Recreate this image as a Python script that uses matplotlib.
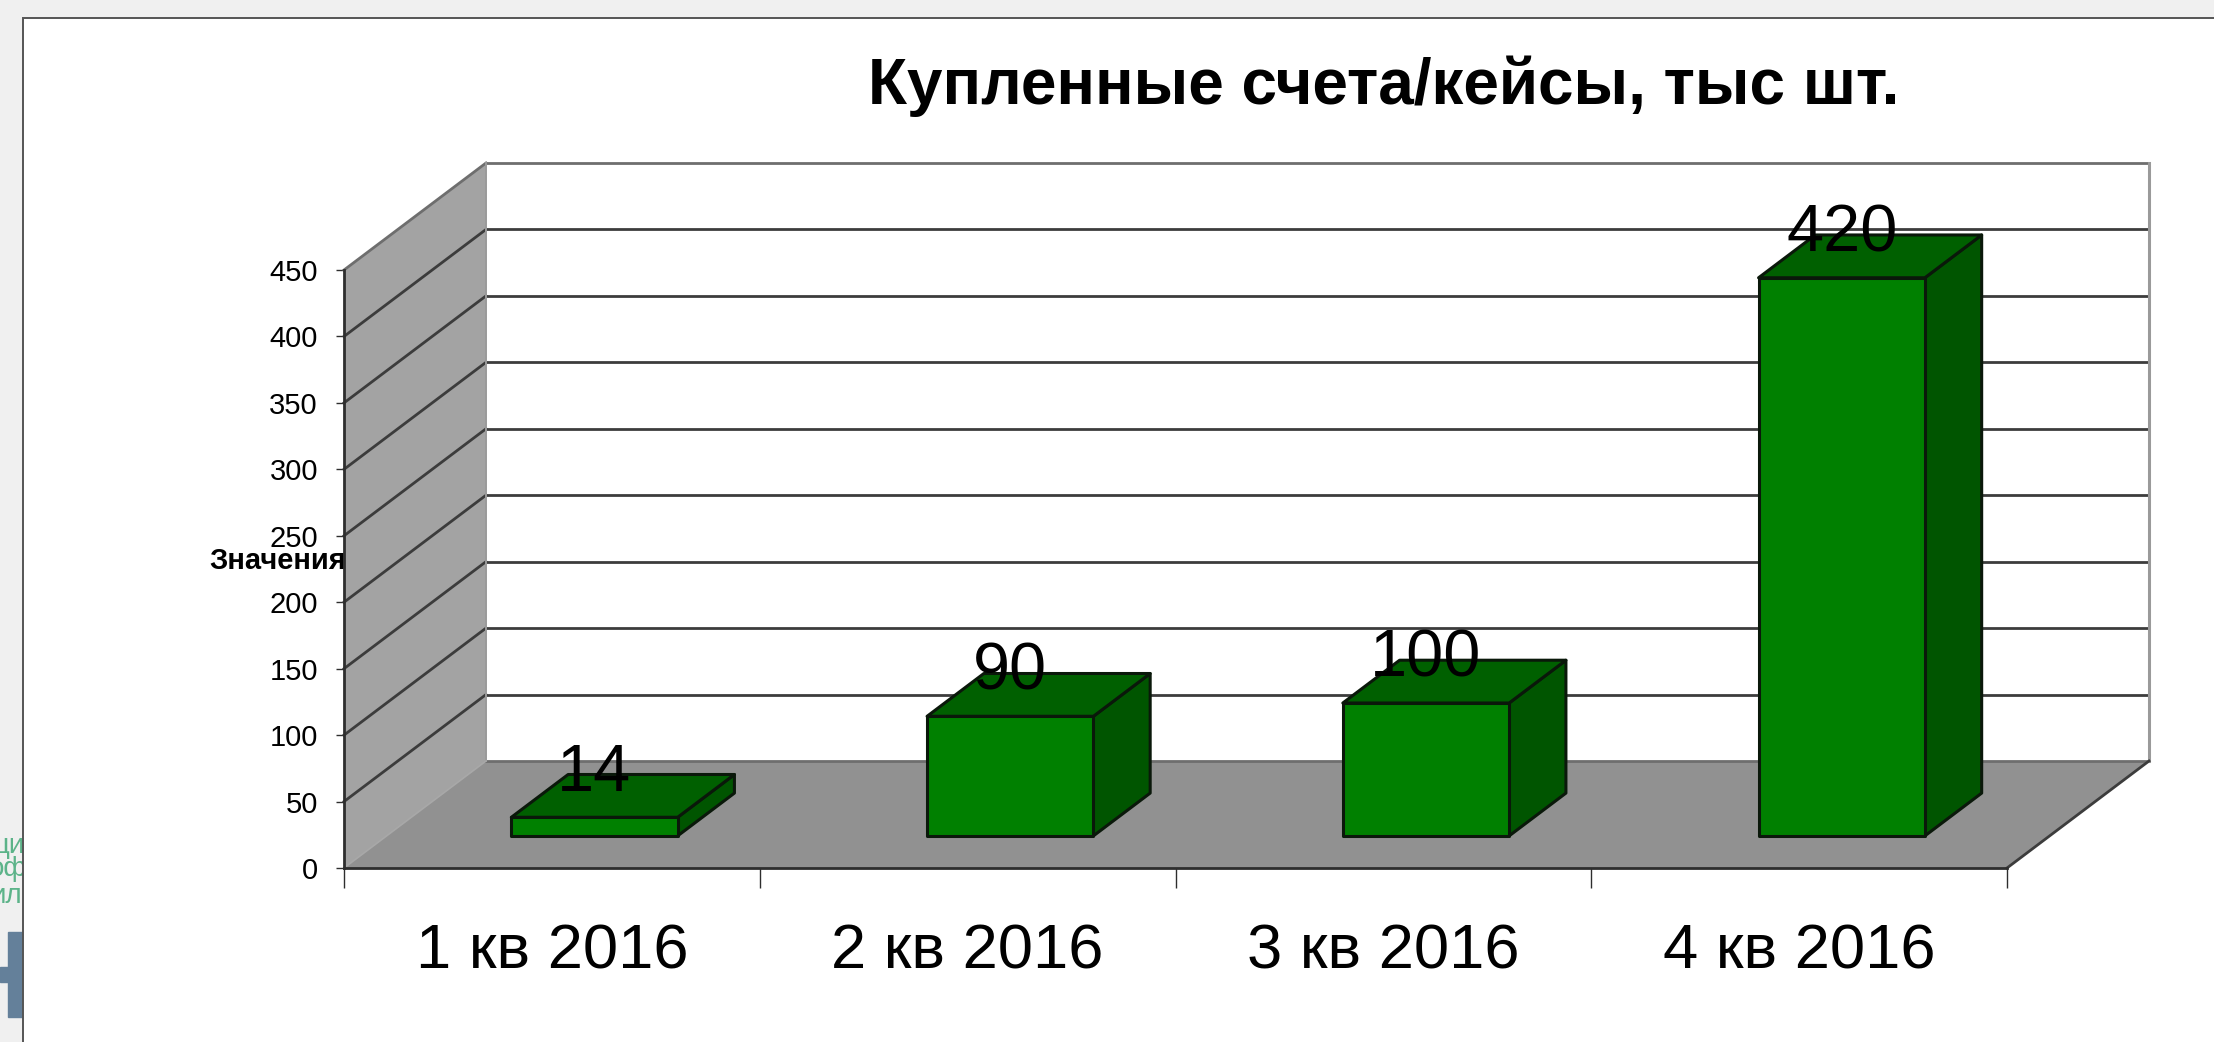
import matplotlib
matplotlib.use("Agg")
import matplotlib.pyplot as plt
from matplotlib.patches import Polygon, Rectangle

plt.rcParams['font.family'] = ['Liberation Sans', 'DejaVu Sans']

# Data
categories = ["1 кв 2016", "2 кв 2016", "3 кв 2016", "4 кв 2016"]
values = [14, 90, 100, 420]
y_ticks = [0, 50, 100, 150, 200, 250, 300, 350, 400, 450]
title = "Купленные счета/кейсы, тыс шт."
y_title = "Значения"
logo_lines = ["ци", "оф", "ил"]

W, H = 2214, 1042
DPI = 100

# front plane of the chart, in pixels
LEFT, RIGHT, BASE, TOP = 344, 2007, 868, 270
PX_X = (RIGHT - LEFT) / len(categories)
PX_Y = (BASE - TOP) / y_ticks[-1]
# oblique depth in data units
DX = 142 / PX_X
DY = 107 / PX_Y


def proj(x, v, d):
    """Oblique projection: depth d (0..1) shifts a point up and to the right"""
    return (x + d * DX, v + d * DY)


def fx(px):
    return px / W


def fy(py):
    return 1 - py / H


fig = plt.figure(figsize=(W / DPI, H / DPI), dpi=DPI, facecolor="#f0f0f0")

# Logo fragments behind the white slide panel
logo_green = "#5cb389"
for txt, px, py in zip(logo_lines, [24, 27, 22], [846, 869, 896]):
    fig.text(fx(px), fy(py), txt, color=logo_green, fontsize=20, ha="right", va="center", zorder=1)
logo_blue = "#64809a"
fig.add_artist(Rectangle((fx(8), fy(1017)), fx(30) - fx(8), fy(932) - fy(1017), color=logo_blue, zorder=1))
fig.add_artist(Rectangle((fx(0), fy(982)), fx(8), fy(967) - fy(982), color=logo_blue, zorder=1))

# White panel
fig.add_artist(Rectangle((fx(23), fy(H + 20)), fx(W + 20 - 23), fy(18) - fy(H + 20),
                         facecolor="white", edgecolor="#555555", linewidth=1.4, zorder=2))

ax = fig.add_axes([fx(LEFT), fy(BASE), fx(RIGHT - LEFT), fy(TOP) - fy(BASE)], zorder=3)
ax.patch.set_visible(False)
ax.set_xlim(0, len(categories))
ax.set_ylim(0, y_ticks[-1])

n = len(categories)
top = y_ticks[-1]

# Side wall and floor
ax.add_patch(Polygon([proj(0, 0, 0), proj(0, top, 0), proj(0, top, 1), proj(0, 0, 1)],
                     facecolor="#a3a3a3", edgecolor="none", clip_on=False, zorder=1))
ax.add_patch(Polygon([proj(0, 0, 0), proj(n, 0, 0), proj(n, 0, 1), proj(0, 0, 1)],
                     facecolor="#919191", edgecolor="none", clip_on=False, zorder=1))

# Grid lines on both walls
for tick in y_ticks:
    color = "#6e6e6e" if tick in (0, top) else "#3c3c3c"
    if tick > 0:
        p0, p1 = proj(0, tick, 0), proj(0, tick, 1)
        ax.plot([p0[0], p1[0]], [p0[1], p1[1]], color=color, lw=2.0, clip_on=False, zorder=2)
    p1, p2 = proj(0, tick, 1), proj(n, tick, 1)
    ax.plot([p1[0], p2[0]], [p1[1], p2[1]], color=color, lw=2.0, clip_on=False, zorder=2)

# Wall edges
p0, p1 = proj(0, 0, 1), proj(0, top, 1)
ax.plot([p0[0], p1[0]], [p0[1], p1[1]], color="#9a9a9a", lw=1.4, clip_on=False, zorder=2)
p0, p1 = proj(n, 0, 1), proj(n, top, 1)
ax.plot([p0[0], p1[0]], [p0[1], p1[1]], color="#9a9a9a", lw=2.2, clip_on=False, zorder=2)
p0, p1 = proj(0, 0, 0), proj(0, 0, 1)
ax.plot([p0[0], p1[0]], [p0[1], p1[1]], color="#a8a8a8", lw=1.2, clip_on=False, zorder=2)
p0, p1 = proj(n, 0, 0), proj(n, 0, 1)
ax.plot([p0[0], p1[0]], [p0[1], p1[1]], color="#3c3c3c", lw=2.0, clip_on=False, zorder=2)

# Bars
edge = "#0a180a"
for i, val in enumerate(values):
    x0, x1 = i + 0.3, i + 0.7
    d0, d1 = 0.3, 0.7
    faces = [
        ([proj(x1, 0, d0), proj(x1, val, d0), proj(x1, val, d1), proj(x1, 0, d1)], "#005500"),
        ([proj(x0, val, d0), proj(x1, val, d0), proj(x1, val, d1), proj(x0, val, d1)], "#006000"),
        ([proj(x0, 0, d0), proj(x1, 0, d0), proj(x1, val, d0), proj(x0, val, d0)], "#008000"),
    ]
    for pts, color in faces:
        ax.add_patch(Polygon(pts, facecolor=color, edgecolor=edge, linewidth=2.2,
                             joinstyle="round", clip_on=False, zorder=3))
    cx, cy = proj(i + 0.5, val, d0)
    ax.annotate(str(val), (cx, cy), xytext=(0, 31.5), textcoords="offset points",
                ha="center", va="center", fontsize=48, color="black", zorder=5, annotation_clip=False)

# Axes
for name in ("top", "right"):
    ax.spines[name].set_visible(False)
for name in ("left", "bottom"):
    ax.spines[name].set_color("#2e2e2e")
    ax.spines[name].set_linewidth(2.0)
    ax.spines[name].set_zorder(4)

ax.set_yticks(y_ticks)
ax.set_yticklabels([str(t) for t in y_ticks])
ax.tick_params(axis="y", length=5.8, width=1.0, color="#2e2e2e", pad=13, labelsize=21)

ax.set_xticks(range(n + 1))
ax.set_xticklabels([])
ax.set_xticks([i + 0.5 for i in range(n)], minor=True)
ax.set_xticklabels(categories, minor=True)
ax.tick_params(axis="x", which="major", length=14.4, width=1.0, color="#2e2e2e")
ax.tick_params(axis="x", which="minor", length=0, pad=39, labelsize=45.5)

ax.set_ylabel(y_title, rotation=0, ha="right", va="center", fontsize=21, fontweight="bold")
ax.yaxis.set_label_coords((346 - LEFT) / (RIGHT - LEFT), (BASE - 561) / (BASE - TOP))

ax.set_title(title, x=(1384 - LEFT) / (RIGHT - LEFT), y=(BASE - 95) / (BASE - TOP),
             va="center", ha="center", fontsize=46, fontweight="bold")

fig.savefig("out.png", dpi=DPI, facecolor=fig.get_facecolor())
